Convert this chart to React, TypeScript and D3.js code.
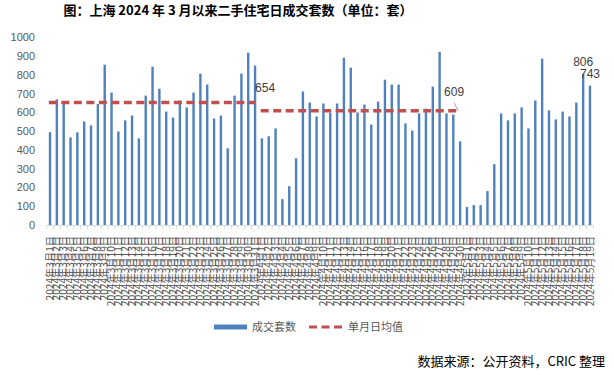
import { useRef, useEffect } from "react";
import * as d3 from "d3";

// daily second-hand home deals, Shanghai (units)
const marchValues = [495, 670, 660, 467, 494, 552, 531, 645, 855, 706, 499, 558, 584, 462, 690, 844, 727, 605, 573, 664, 627, 706, 807, 749, 568, 584, 409, 690, 807, 919, 850];
const aprilValues = [462, 473, 515, 138, 207, 356, 712, 653, 579, 648, 600, 648, 892, 839, 600, 642, 536, 658, 775, 749, 749, 542, 504, 595, 621, 738, 924, 595, 589, 446];
const mayValues = [96, 106, 106, 181, 324, 595, 558, 595, 627, 515, 664, 887, 611, 563, 605, 579, 653, 806, 743];

const months = [
  { month: 3, values: marchValues, avg: 654 },
  { month: 4, values: aprilValues, avg: 609 },
  { month: 5, values: mayValues, avg: null },
];

const yTicks = [0, 100, 200, 300, 400, 500, 600, 700, 800, 900, 1000];
const labelledDays = ["2024年5月18日", "2024年5月19日"];

const BLUE = "#4f81bd";
const RED = "#c0504d";
const GREY = "#595959";

export default function App() {
  const svgRef = useRef(null);

  useEffect(() => {
    const svg = d3.select(svgRef.current);
    svg.selectAll("*").remove();

    const data = [];
    months.forEach(m => {
      m.values.forEach((v, i) => data.push({ label: `2024年${m.month}月${i + 1}日`, value: v, month: m.month }));
    });

    const x = d3.scaleBand().domain(data.map(d => d.label)).range([46.6, 593.4]).paddingInner(0.65).paddingOuter(0.325);
    const y = d3.scaleLinear().domain([0, 1000]).range([225, 37.5]);
    const cx = label => x(label) + x.bandwidth() / 2;

    svg.append("rect").attr("width", 614).attr("height", 375).attr("fill", "#fff");

    // title
    svg.append("text")
      .attr("x", 238).attr("y", 15)
      .attr("text-anchor", "middle")
      .attr("font-family", "'Noto Sans CJK SC', sans-serif")
      .attr("font-weight", "bold")
      .attr("font-size", 13)
      .attr("fill", "#000")
      .text("图：上海 2024 年 3 月以来二手住宅日成交套数（单位：套）");

    // y axis labels
    svg.append("g")
      .selectAll("text")
      .data(yTicks)
      .join("text")
      .attr("x", 35)
      .attr("y", d => y(d))
      .attr("dy", "0.35em")
      .attr("text-anchor", "end")
      .attr("font-family", "'Liberation Sans', sans-serif")
      .attr("font-size", 11)
      .attr("fill", GREY)
      .text(d => d);

    // bars
    svg.append("g")
      .selectAll("rect")
      .data(data)
      .join("rect")
      .attr("x", d => x(d.label))
      .attr("y", d => y(d.value))
      .attr("width", x.bandwidth())
      .attr("height", d => y(0) - y(d.value))
      .attr("fill", BLUE);

    // x axis line + ticks at band edges
    const [r0, r1] = x.range();
    svg.append("line")
      .attr("x1", r0).attr("x2", r1)
      .attr("y1", y(0) + 0.5).attr("y2", y(0) + 0.5)
      .attr("stroke", "#d9d9d9");
    svg.append("g")
      .selectAll("line")
      .data(d3.range(data.length + 1))
      .join("line")
      .attr("x1", i => r0 + i * x.step())
      .attr("x2", i => r0 + i * x.step())
      .attr("y1", y(0)).attr("y2", y(0) + 4)
      .attr("stroke", "#d9d9d9");

    // x labels (overlapping, like the source)
    svg.append("g")
      .selectAll("text")
      .data(data)
      .join("text")
      .attr("transform", d => `translate(${cx(d.label)},236) rotate(-90)`)
      .attr("dy", "0.35em")
      .attr("text-anchor", "end")
      .attr("font-family", "'Noto Sans CJK SC', sans-serif")
      .attr("font-size", 10.2)
      .attr("fill", GREY)
      .text(d => d.label);

    // monthly average lines
    months.filter(m => m.avg !== null).forEach(m => {
      const first = `2024年${m.month}月1日`;
      const last = `2024年${m.month}月${m.values.length}日`;
      svg.append("line")
        .attr("x1", x(first)).attr("x2", cx(last))
        .attr("y1", y(m.avg)).attr("y2", y(m.avg))
        .attr("stroke", RED)
        .attr("stroke-width", 3.5)
        .attr("stroke-dasharray", "8,4.5");
    });

    const annot = (tx, ty, txt) => svg.append("text")
      .attr("x", tx).attr("y", ty)
      .attr("text-anchor", "middle")
      .attr("font-family", "'Liberation Sans', sans-serif")
      .attr("font-size", 12)
      .attr("fill", "#404040")
      .text(txt);

    const marchEnd = cx("2024年3月31日");
    annot(marchEnd + 10, y(654) - 10, "654");
    const aprilEnd = cx("2024年4月30日");
    annot(aprilEnd - 6, y(609) - 15, "609");
    svg.append("line")
      .attr("x1", aprilEnd - 6).attr("y1", y(609) - 8)
      .attr("x2", aprilEnd - 2).attr("y2", y(609))
      .attr("stroke", "#a6a6a6");

    labelledDays.forEach(l => {
      const d = data.find(e => e.label === l);
      annot(cx(l), y(d.value) - 8, d.value);
    });

    // legend
    const lg = svg.append("g").attr("font-family", "'Noto Sans CJK SC', sans-serif").attr("font-size", 11).attr("fill", GREY);
    lg.append("rect").attr("x", 214).attr("y", 324.5).attr("width", 33).attr("height", 5).attr("fill", BLUE);
    lg.append("text").attr("x", 252).attr("y", 331).text("成交套数");
    lg.append("line")
      .attr("x1", 309).attr("x2", 342).attr("y1", 327).attr("y2", 327)
      .attr("stroke", RED).attr("stroke-width", 3).attr("stroke-dasharray", "8,4.5");
    lg.append("text").attr("x", 348).attr("y", 331).text("单月日均值");

    // source
    svg.append("text")
      .attr("x", 605).attr("y", 366)
      .attr("text-anchor", "end")
      .attr("font-family", "'Noto Sans CJK SC', sans-serif")
      .attr("font-size", 13)
      .attr("fill", "#000")
      .text("数据来源：公开资料，CRIC 整理");
  }, []);

  return (
    <div style={{ position: "absolute", left: 0, top: 0 }}>
      <svg ref={svgRef} width={614} height={375} style={{ display: "block" }}></svg>
    </div>
  );
}
